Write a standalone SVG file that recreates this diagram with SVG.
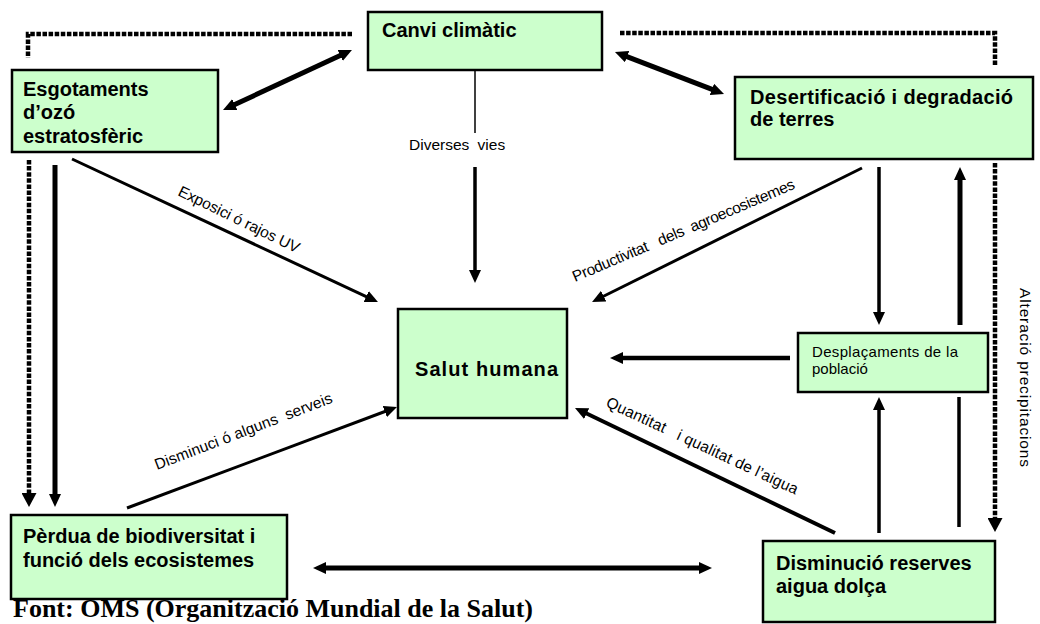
<svg xmlns="http://www.w3.org/2000/svg" width="1040" height="624" viewBox="0 0 1040 624">
<defs>
<style>
.box{fill:#CCFFCC;stroke:#000;stroke-width:2.5}
.nb{font-family:"Liberation Sans",Arial,sans-serif;font-weight:bold;font-size:20px;fill:#000}
.nr{font-family:"Liberation Sans",Arial,sans-serif;font-size:15px;fill:#000}
.lb{font-family:"Liberation Sans",Arial,sans-serif;font-size:15.5px;fill:#000}
.ln{fill:none;stroke:#000;stroke-linecap:butt}
.dot{fill:none;stroke:#000;stroke-width:4.5;stroke-dasharray:4.5 1.6}
.foot{font-family:"Liberation Serif","Times New Roman",serif;font-weight:bold;font-size:25px;fill:#000}
</style>
<marker id="ah" viewBox="0 0 13 12" refX="3" refY="6" markerWidth="13" markerHeight="12" markerUnits="userSpaceOnUse" orient="auto-start-reverse">
<path d="M0,0 L13,6 L0,12 z" fill="#000"/>
</marker>
<marker id="ahd" viewBox="0 0 14 15" refX="2" refY="7.5" markerWidth="14" markerHeight="15" markerUnits="userSpaceOnUse" orient="auto-start-reverse">
<path d="M0,0 L14,7.5 L0,15 z" fill="#000"/>
</marker>
</defs>
<rect width="1040" height="624" fill="#fff"/>

<g id="connectors">
<path class="dot" d="M352,34 H28 V58"/>
<path class="dot" d="M29,160 V495" marker-end="url(#ahd)"/>
<path class="dot" d="M620,33 H995 V65"/>
<path class="dot" d="M995,163 V520" marker-end="url(#ahd)"/>
<line class="ln" x1="232.1" y1="105.8" x2="342.9" y2="54.2" stroke-width="5" marker-start="url(#ah)" marker-end="url(#ah)"/>
<line class="ln" x1="624.3" y1="55.6" x2="714.7" y2="90.4" stroke-width="5" marker-start="url(#ah)" marker-end="url(#ah)"/>
<line class="ln" x1="475" y1="70" x2="475" y2="133" stroke-width="1.5"/>
<line class="ln" x1="475" y1="167" x2="475" y2="273" stroke-width="3.5" marker-end="url(#ah)"/>
<line class="ln" x1="55" y1="165" x2="55" y2="497" stroke-width="5" marker-end="url(#ah)"/>
<line class="ln" x1="72" y1="159" x2="368.9" y2="297.8" stroke-width="3" marker-end="url(#ah)"/>
<line class="ln" x1="862" y1="168" x2="601" y2="297.5" stroke-width="3" marker-end="url(#ah)"/>
<line class="ln" x1="879" y1="167" x2="879" y2="315" stroke-width="3.5" marker-end="url(#ah)"/>
<line class="ln" x1="960" y1="325" x2="960" y2="177" stroke-width="5" marker-end="url(#ah)"/>
<line class="ln" x1="790" y1="358" x2="620" y2="358" stroke-width="4.5" marker-end="url(#ah)"/>
<line class="ln" x1="879" y1="533" x2="879" y2="407" stroke-width="3.5" marker-end="url(#ah)"/>
<line class="ln" x1="959" y1="397" x2="959" y2="527" stroke-width="3.5"/>
<line class="ln" x1="835" y1="533" x2="584" y2="412.3" stroke-width="4" marker-end="url(#ah)"/>
<line class="ln" x1="127" y1="508" x2="387.6" y2="410.5" stroke-width="3" marker-end="url(#ah)"/>
<line class="ln" x1="323" y1="568" x2="702" y2="568" stroke-width="5" marker-start="url(#ah)" marker-end="url(#ah)"/>

<text class="lb" x="409" y="150" font-size="17.5" word-spacing="4">Diverses vies</text>
<text class="lb" transform="translate(177,195) rotate(26)" textLength="133" lengthAdjust="spacing">Exposici ó rajos UV</text>
<text class="lb" transform="translate(575,282) rotate(-23)" textLength="240" lengthAdjust="spacing" xml:space="preserve">Productivitat   dels  agroecosistemes</text>
<text class="lb" transform="translate(157,470) rotate(-21)" textLength="189" lengthAdjust="spacing" xml:space="preserve">Disminuci ó alguns  serveis</text>
<text class="lb" transform="translate(605,406) rotate(25)" textLength="210" lengthAdjust="spacing" xml:space="preserve">Quantitat   i qualitat de l’aigua</text>
<text class="lb" transform="translate(1020,288) rotate(90)" font-size="17.5" textLength="179" lengthAdjust="spacing">Alteració precipitacions</text>
</g>

<g id="n-canvi">
<rect class="box" x="368" y="12" width="234" height="58"/>
<text class="nb" x="382" y="37">Canvi climàtic</text>
</g>
<g id="n-esgotaments">
<rect class="box" x="12" y="70" width="206" height="82"/>
<text class="nb" x="23" y="96">Esgotaments</text>
<text class="nb" x="23" y="119">d’ozó</text>
<text class="nb" x="23" y="143">estratosfèric</text>
</g>
<g id="n-desertificacio">
<rect class="box" x="735" y="77" width="298" height="82"/>
<text class="nb" x="750" y="104" textLength="263" lengthAdjust="spacing">Desertificació i degradació</text>
<text class="nb" x="750" y="126">de terres</text>
</g>
<g id="n-salut">
<rect class="box" x="398" y="309" width="169" height="109"/>
<text class="nb" x="415" y="376" textLength="143" lengthAdjust="spacing">Salut humana</text>
</g>
<g id="n-desplacaments">
<rect class="box" x="798" y="333" width="190" height="59"/>
<text class="nr" x="812" y="357" textLength="146" lengthAdjust="spacing">Desplaçaments de la</text>
<text class="nr" x="812" y="374">població</text>
</g>
<g id="n-perdua">
<rect class="box" x="11" y="515" width="276" height="84"/>
<text class="nb" x="23" y="543">Pèrdua de biodiversitat i</text>
<text class="nb" x="23" y="567">funció dels ecosistemes</text>
</g>
<g id="n-disminucio">
<rect class="box" x="763" y="541" width="232" height="81"/>
<text class="nb" x="776" y="570">Disminució reserves</text>
<text class="nb" x="776" y="593">aigua dolça</text>
</g>

<text class="foot" x="13" y="617" textLength="520" lengthAdjust="spacingAndGlyphs">Font: OMS (Organització Mundial de la Salut)</text>
</svg>
